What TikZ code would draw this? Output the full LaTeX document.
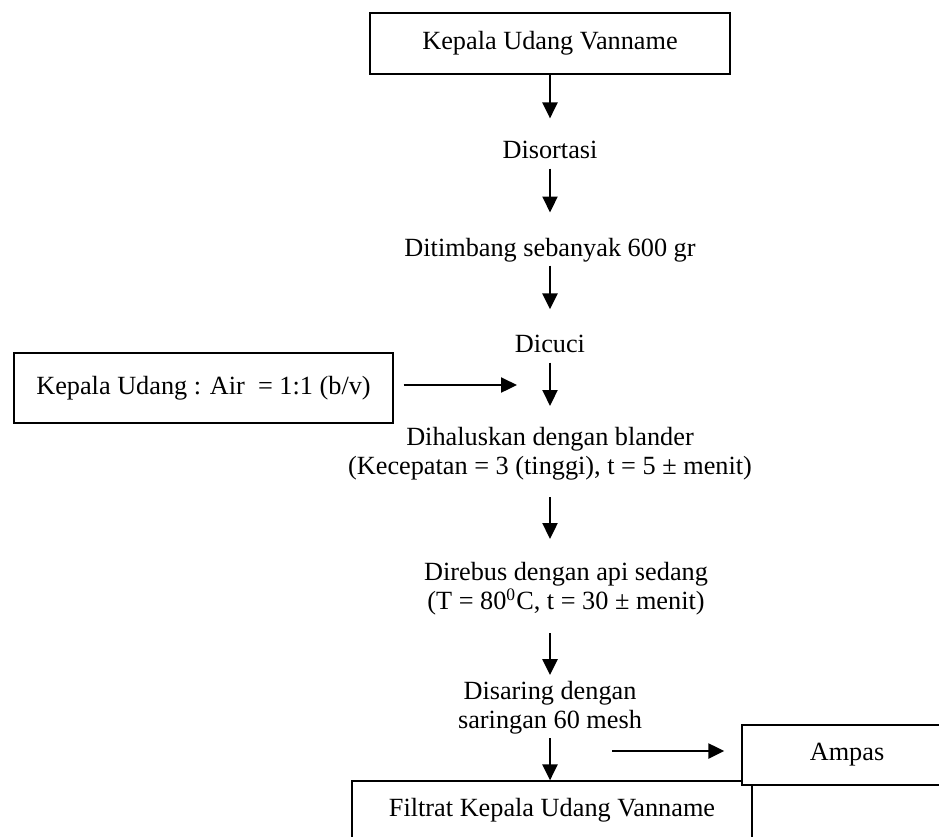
\documentclass[tikz,border=0pt]{standalone}
\usepackage{fontspec}
\setmainfont{Liberation Serif}
\usetikzlibrary{arrows.meta}
\newcommand{\pxu}{0.016048cm}
\tikzset{
  every picture/.style={
    line width=0.55pt
  },
  procbox/.style={draw, rectangle, fill=white, inner sep=0pt},
  steptext/.style={inner sep=0pt, text height=8.2pt, text depth=2.6pt, anchor=base},
  twoline/.style={inner sep=0pt, align=center, anchor=north},
  flow/.style={-{Triangle[width=6.8pt, length=7.3pt]}, line width=1.2pt}
}

\begin{document}
\begin{tikzpicture}[x=\pxu, y=-\pxu, font=\fontsize{12}{13.2}\selectfont]
  \useasboundingbox (0,0) rectangle (939,836);

  \node[procbox, minimum width=360*\pxu, minimum height=61*\pxu] (kepala) at (550,43.4) {Kepala Udang Vanname};
  \node[steptext] (sortasi) at (550,158) {Disortasi};
  \node[steptext] (timbang) at (550,256) {Ditimbang sebanyak 600 gr};
  \node[steptext] (cuci) at (550,352) {Dicuci};
  \node[procbox, minimum width=379*\pxu, minimum height=70*\pxu] (rasio) at (203.5,388) {Kepala Udang : Air~ = 1:1 (b/v)};
  \coordinate (masuk) at (517,385);
  \node[twoline] (halus) at (550,427) {Dihaluskan dengan blander\\(Kecepatan = 3 (tinggi), t = 5 ± menit)};
  \node[twoline] (rebus) at (566,562) {Direbus dengan api sedang\\(T = 80\textsuperscript{0}C, t = 30 ± menit)};
  \node[twoline] (saring) at (550,681) {Disaring dengan\\saringan 60 mesh};
  \node[procbox, minimum width=400*\pxu, minimum height=59*\pxu] (filtrat) at (552,810.5) {Filtrat Kepala Udang Vanname};
  \node[procbox, minimum width=210*\pxu, minimum height=60*\pxu] (ampas) at (847,755) {Ampas};
  \coordinate (buang) at (612,751);

  \draw[flow, shorten >=9.6pt] (kepala.south) -- (sortasi.north);
  \draw[flow, shorten <=2pt, shorten >=11.4pt] (sortasi.south) -- (timbang.north);
  \draw[flow, shorten <=1.5pt, shorten >=11pt] (timbang.south) -- (cuci.north);
  \draw[flow, shorten <=2pt, shorten >=9.6pt] (cuci.south) -- (halus.north);
  \draw[flow, shorten <=4.6pt] (rasio.east |- masuk) -- (masuk);
  \draw[flow, shorten <=7.4pt, shorten >=10.5pt] (halus.south) -- (halus.south |- rebus.north);
  \draw[flow, shorten <=7.8pt, shorten >=2.7pt] (halus.south |- rebus.south) -- (saring.north);
  \draw[flow, shorten <=1.5pt] (saring.south) -- (filtrat.north -| saring.south);
  \draw[flow, shorten >=7.8pt] (buang) -- (buang -| ampas.west);
\end{tikzpicture}
\end{document}
